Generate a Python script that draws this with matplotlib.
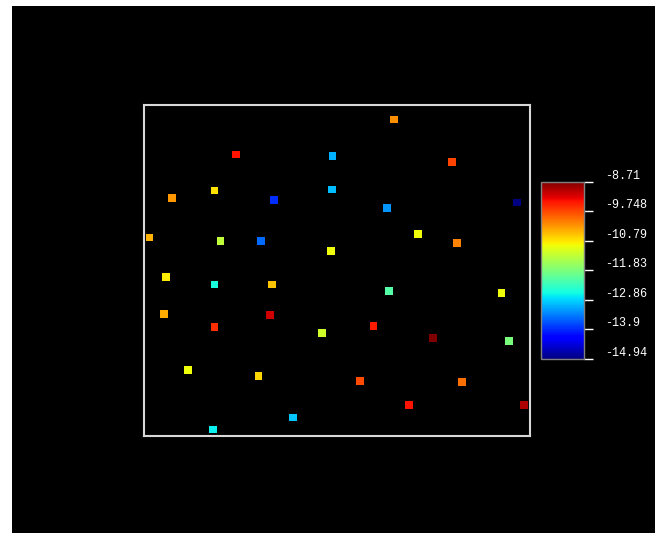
import matplotlib
matplotlib.use("Agg")
import matplotlib.pyplot as plt
from matplotlib.patches import Rectangle
import numpy as np

# point positions (arbitrary 0..10 frame) and values
xs = [6.47, 2.39, 4.89, 7.97, 0.74, 1.84, 3.37, 4.88, 6.30, 9.66,
      0.16, 1.99, 3.04, 4.85, 7.10, 8.11, 0.58, 1.84, 3.32, 6.35,
      9.26, 0.53, 1.84, 3.27, 4.62, 5.95, 7.49, 9.45, 1.15, 2.97,
      5.60, 8.23, 6.86, 9.83, 3.86, 1.80]
ys = [9.57, 8.51, 8.46, 8.29, 7.20, 7.42, 7.14, 7.45, 6.89, 7.06,
      6.00, 5.89, 5.89, 5.60, 6.11, 5.83, 4.80, 4.58, 4.58, 4.38,
      4.32, 3.68, 3.30, 3.65, 3.12, 3.33, 2.96, 2.88, 1.99, 1.81,
      1.67, 1.64, 0.93, 0.93, 0.56, 0.20]
values = [-10.20, -9.40, -13.07, -9.71, -10.27, -10.77, -13.88, -13.01, -13.26, -14.94,
          -10.45, -11.33, -13.51, -10.95, -10.95, -10.14, -10.83, -12.57, -10.58, -12.14,
          -10.95, -10.39, -9.58, -9.15, -11.20, -9.46, -8.71, -11.83, -10.95, -10.70,
          -9.77, -10.02, -9.40, -8.96, -12.95, -12.70]

vmin, vmax = -14.94, -8.71
cbar_labels = ["-14.94", "-13.9", "-12.86", "-11.83", "-10.79", "-9.748", "-8.71"]

fig = plt.figure(figsize=(6.62, 5.33), dpi=100)
fig.patch.set_facecolor("white")
fig.add_artist(Rectangle((12 / 662, 0), (655 - 12) / 662, 1 - 6 / 533,
                         transform=fig.transFigure, facecolor="black",
                         edgecolor="none", zorder=-10))

ax = fig.add_axes([143.5 / 662, 1 - 436 / 533, 386.8 / 662, 330.7 / 533])
ax.set_facecolor("black")
sc = ax.scatter(xs, ys, c=values, cmap="jet", vmin=vmin, vmax=vmax,
                marker="s", s=30, edgecolors="none")
ax.set_xlim(0, 10)
ax.set_ylim(0, 10)
ax.set_xticks([])
ax.set_yticks([])
for sp in ax.spines.values():
    sp.set_color("#d8d8d8")
    sp.set_linewidth(1.5)

cax = fig.add_axes([541 / 662, 1 - 359 / 533, 43 / 662, 177.3 / 533])
cb = fig.colorbar(sc, cax=cax)
cb.set_ticks(np.linspace(vmin, vmax, len(cbar_labels)), labels=cbar_labels)
cb.outline.set_edgecolor("#808080")
cb.outline.set_linewidth(1)
cb.ax.tick_params(axis="y", colors="white", length=6.5, width=1, pad=9,
                  labelsize=8.5)
for lbl in cb.ax.get_yticklabels():
    lbl.set_family("Liberation Mono")
    lbl.set_verticalalignment("bottom")

fig.savefig("out.png", dpi=100)
